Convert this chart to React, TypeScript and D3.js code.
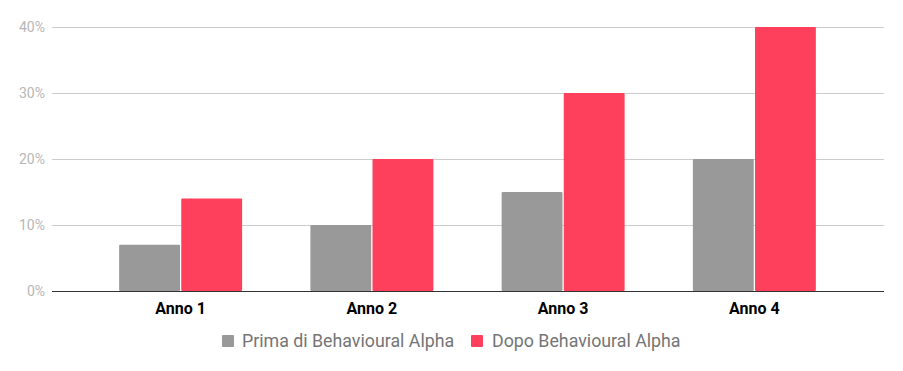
import React from "react";
import * as d3 from "d3";

const categories = ["Anno 1", "Anno 2", "Anno 3", "Anno 4"];
const seriesNames = ["Prima di Behavioural Alpha", "Dopo Behavioural Alpha"];
const primaValues = [0.07, 0.1, 0.15, 0.2];
const dopoValues = [0.14, 0.2, 0.3, 0.4];
const yTicks = [0, 0.1, 0.2, 0.3, 0.4];
const colors = ["#999999", "#ff405c"];

const W = 903;
const H = 371;

export default function App() {
  const y = d3.scaleLinear().domain([0, 0.4]).range([291, 27]);
  const x0 = d3
    .scaleBand<string>()
    .domain(categories)
    .range([85, 850])
    .paddingInner(0.357)
    .paddingOuter(0.1785);
  const x1 = d3
    .scaleBand<string>()
    .domain(seriesNames)
    .range([0, x0.bandwidth()])
    .paddingInner(0.02);
  const series = [primaValues, dopoValues];
  const fmt = d3.format(".0%");
  const font = "Roboto, Arial, sans-serif";

  return (
    <svg width={W} height={H} style={{ display: "block", position: "absolute", left: 0, top: 0 }}>
      <rect width={W} height={H} fill="#fff" />
      {yTicks.map((t) => (
        <g key={t}>
          {t !== 0 && (
            <line x1={52} x2={884} y1={y(t) + 0.5} y2={y(t) + 0.5} stroke="#cccccc" strokeWidth={1} />
          )}
          <text
            x={45}
            y={y(t) + 5}
            textAnchor="end"
            fontFamily={font}
            fontSize={14}
            fill="#b7b7b7"
          >
            {fmt(t)}
          </text>
        </g>
      ))}
      {categories.map((c, i) => (
        <g key={c} transform={`translate(${x0(c)},0)`}>
          {seriesNames.map((s, j) => {
            const v = series[j][i];
            return (
              <rect
                key={s}
                x={x1(s)}
                y={y(v)}
                width={x1.bandwidth()}
                height={y(0) - y(v)}
                fill={colors[j]}
                rx={1}
              />
            );
          })}
          <text
            x={x0.bandwidth() / 2}
            y={314}
            textAnchor="middle"
            fontFamily={font}
            fontWeight="bold"
            fontSize={16}
            fill="#000"
          >
            {c}
          </text>
        </g>
      ))}
      <line x1={52} x2={884} y1={291.5} y2={291.5} stroke="#333333" strokeWidth={1} />
      {/* legend */}
      <g>
        <rect x={222} y={335} width={12} height={12} fill={colors[0]} rx={1} />
        <text x={242} y={347} fontFamily={font} fontSize={17.8} fill="#757575">
          {seriesNames[0]}
        </text>
        <rect x={471} y={335} width={12} height={12} fill={colors[1]} rx={1} />
        <text x={492} y={347} fontFamily={font} fontSize={17.8} fill="#757575">
          {seriesNames[1]}
        </text>
      </g>
    </svg>
  );
}
